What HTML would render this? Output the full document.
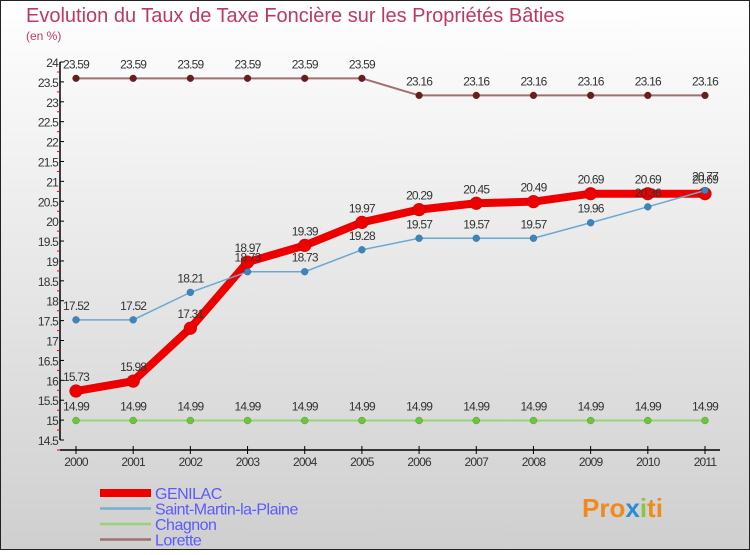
<!DOCTYPE html>
<html><head><meta charset="utf-8"><style>
html,body{margin:0;padding:0}
body{width:750px;height:550px;overflow:hidden;font-family:"Liberation Sans",sans-serif}
</style></head><body>
<svg id="chart" width="750" height="550" xmlns="http://www.w3.org/2000/svg">
<defs><linearGradient id="bg" x1="0" y1="0" x2="0" y2="1"><stop offset="0" stop-color="#ffffff"/><stop offset="1" stop-color="#cfcfcf"/></linearGradient></defs>
<rect x="0.5" y="0.5" width="749" height="549" fill="url(#bg)" stroke="#222" stroke-width="1"/>
<text x="26" y="22" font-size="20" fill="#c0385e">Evolution du Taux de Taxe Foncière sur les Propriétés Bâties</text>
<text x="26" y="40" font-size="12" fill="#c0385e">(en %)</text>
<g id="axes"></g><g id="series"></g><g id="legend"></g>
<text x="582" y="517" font-size="26" font-weight="bold" fill="#f08a1c">Pro<tspan fill="#2a8fd0">x</tspan><tspan fill="#8cc63f">i</tspan>ti</text>
</svg>
<script>
const years=["2000","2001","2002","2003","2004","2005","2006","2007","2008","2009","2010","2011"];
const genilac=[15.73,15.98,17.31,18.97,19.39,19.97,20.29,20.45,20.49,20.69,20.69,20.69];
const stMartin=[17.52,17.52,18.21,18.73,18.73,19.28,19.57,19.57,19.57,19.96,20.36,20.77];
const chagnon=[14.99,14.99,14.99,14.99,14.99,14.99,14.99,14.99,14.99,14.99,14.99,14.99];
const lorette=[23.59,23.59,23.59,23.59,23.59,23.59,23.16,23.16,23.16,23.16,23.16,23.16];
const yTicks=[14.5,15,15.5,16,16.5,17,17.5,18,18.5,19,19.5,20,20.5,21,21.5,22,22.5,23,23.5,24];
const NS="http://www.w3.org/2000/svg";
const X0=76,X1=705,Y0=440,Y1=62,ymin=14.5,ymax=24;
const x=i=>X0+(X1-X0)*i/(years.length-1);
const y=v=>Y0-(v-ymin)/(ymax-ymin)*(Y0-Y1);
function el(t,a,p){const e=document.createElementNS(NS,t);for(const k in a)e.setAttribute(k,a[k]);p.appendChild(e);return e;}
const ax=document.getElementById('axes');
const yl=el('line',{x1:60,y1:Y1,x2:60,y2:Y0,stroke:'#000','stroke-width':1.5},ax);


yTicks.forEach(t=>{const yy=y(t);
 el('line',{x1:60,y1:yy,x2:64,y2:yy,stroke:'#000'},ax);
 el('line',{x1:57,y1:yy+10,x2:60,y2:yy+10,stroke:'#e00'},ax);
 const tx=el('text',{x:58,y:yy+5,'text-anchor':'end','font-size':12,fill:'#333','letter-spacing':'-0.8'},ax);
 
 
 tx.textContent=String(t);});
const xl=el('line',{x1:60,y1:450,x2:720,y2:450,stroke:'#000','stroke-width':1.5},ax);


years.forEach((yr,i)=>{el('line',{x1:x(i),y1:446,x2:x(i),y2:454,stroke:'#000'},ax);
 const tx=el('text',{x:x(i),y:466,'text-anchor':'middle','font-size':12,fill:'#333','letter-spacing':'-0.8'},ax);
 
 
 tx.textContent=yr;});
const sg=document.getElementById('series');
function series(name,vals,color,w,r,dot){
 const g=el('g',{},sg);
 
 
 el('polyline',{points:vals.map((v,i)=>x(i)+','+y(v)).join(' '),fill:'none',stroke:color,'stroke-width':w},g);
 vals.forEach((v,i)=>{const c=el('circle',{cx:x(i),cy:y(v),r:r,fill:dot,stroke:'rgba(0,0,0,0.3)','stroke-width':0.5},g);
  
  
  const t=el('text',{x:x(i),y:y(v)-10,'text-anchor':'middle','font-size':12,fill:'#333','letter-spacing':'-0.8'},g);
  
  
  t.textContent=v.toFixed(2);});
}
series('lorette',lorette,'#a07070',2,3.5,'#6b1d1d');
series('chagnon',chagnon,'#99d27a',2,3.5,'#6cc63a');
series('genilac',genilac,'#ee0000',8,6.5,'#ee0000');
series('saint-martin',stMartin,'#6aa8d2',1.5,3.5,'#3a86c0');
const lg=document.getElementById('legend');
[['GENILAC','#ee0000',8],['Saint-Martin-la-Plaine','#7aaed0',2.5],['Chagnon','#99d27a',2.5],['Lorette','#a07070',2.5]].forEach((d,i)=>{
 const yy=493+i*15.5;
 const g=el('g',{},lg);
 
 
 el('line',{x1:100,y1:yy,x2:151,y2:yy,stroke:d[1],'stroke-width':d[2]},g);
 const t=el('text',{x:155,y:yy+6,'font-size':16,fill:'#5a5aff','letter-spacing':'-0.5'},g);
 t.textContent=d[0];});
</script>
</body></html>
